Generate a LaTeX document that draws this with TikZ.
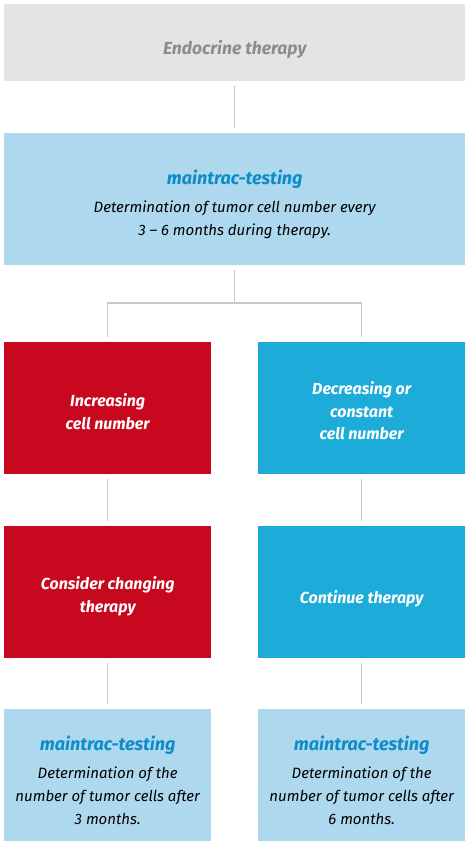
\documentclass[tikz,border=0pt]{standalone}
\usepackage{fontspec}
\setmainfont{Fira Sans}
\usetikzlibrary{positioning}

\definecolor{startgrey}{HTML}{E3E4E6}
\definecolor{startink}{HTML}{8C8C8C}
\definecolor{testblue}{HTML}{ADD8EE}
\definecolor{testink}{HTML}{0E8CC8}
\definecolor{alarmred}{HTML}{C8081E}
\definecolor{goodblue}{HTML}{1DACD9}
\definecolor{linkgrey}{HTML}{C8C8C8}

% strut on the first line, pushes the text a little down
\newcommand{\lift}[1]{\rule{0pt}{#1pt}}
\newcommand{\testhead}{{\color{testink}\fontsize{18}{20}\selectfont\bfseries\lift{24}maintrac-testing}\\[5pt]}

\begin{document}
\begin{tikzpicture}[
    x=1pt, y=-1pt,
    box/.style={rectangle, inner sep=0pt, align=center, anchor=north west},
    wide/.style={box, minimum width=461pt},
    half/.style={box, minimum width=207pt, minimum height=132pt},
    start/.style={wide, minimum height=77pt, fill=startgrey, text=startink,
                  font=\fontsize{17.5}{21}\selectfont\bfseries\itshape},
    testing/.style={fill=testblue, text=black,
                    font=\fontsize{15}{23}\selectfont\itshape},
    worse/.style={half, fill=alarmred, text=white,
                  font=\fontsize{16}{22.5}\selectfont\bfseries\itshape},
    better/.style={half, fill=goodblue, text=white,
                   font=\fontsize{16}{22.5}\selectfont\bfseries\itshape},
    link/.style={draw=linkgrey, line width=1.2pt},
    gap/.style={shorten <=5pt, shorten >=5pt},
]

\useasboundingbox (0,0) rectangle (469,846);

% Top row
\node[start] (endo) at (4,4) {\lift{27}Endocrine therapy};
\node[wide, testing, minimum height=132pt] (test) at (4,133)
  {\testhead Determination of tumor cell number every\\3 -- 6 months during therapy.};

% Outcome of the test
\node[worse] (incr) at (4,342) {\lift{20}Increasing\\cell number};
\node[better] (decr) at (258,342) {\lift{18}Decreasing or\\constant\\cell number};

% Consequence
\node[worse] (change) at (4,526) {\lift{21}Consider changing\\therapy};
\node[better] (cont) at (258,526) {\lift{27}Continue therapy};

% Follow-up tests
\node[half, testing] (after3) at (4,709)
  {\testhead Determination of the\\number of tumor cells after\\3 months.};
\node[half, testing] (after6) at (258,709)
  {\testhead Determination of the\\number of tumor cells after\\6 months.};

% Connectors
\coordinate (fork) at (test.south |- 0,303);
\draw[link, gap] (endo) -- (test);
\draw[link, shorten <=5pt] (test) -- (fork);
\draw[link, gap] (incr) |- (fork) -| (decr);
\draw[link, gap] (incr) -- (change);
\draw[link, gap] (decr) -- (cont);
\draw[link, gap] (change) -- (after3);
\draw[link, gap] (cont) -- (after6);

\end{tikzpicture}
\end{document}
